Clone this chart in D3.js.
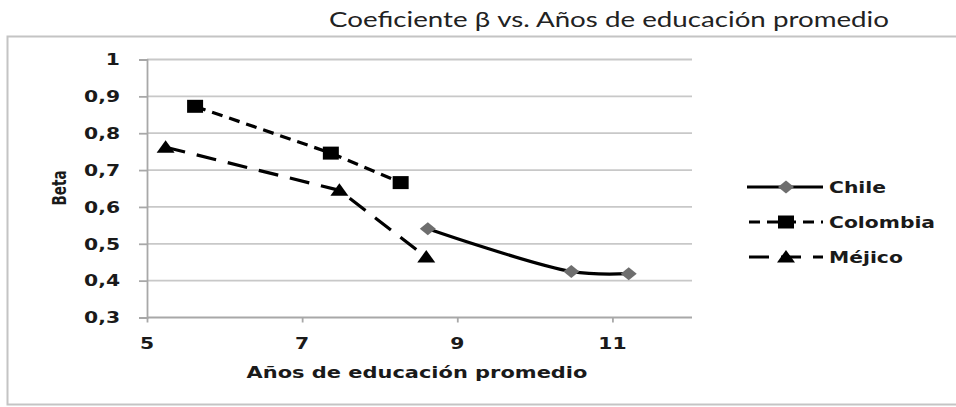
<!DOCTYPE html>
<html>
<head>
<meta charset="utf-8">
<script src="https://cdn.jsdelivr.net/npm/d3@7"></script>
<style>
  body { margin: 0; background: #fff; }
  svg { display: block; }
</style>
</head>
<body>
<svg id="chart" width="956" height="407"></svg>
<script>
// ---- data ----
const xTicks = [5, 7, 9, 11];
const yTicks = [0.3, 0.4, 0.5, 0.6, 0.7, 0.8, 0.9, 1];
const yTickLabels = ["0,3", "0,4", "0,5", "0,6", "0,7", "0,8", "0,9", "1"];

const seriesNames = ["Chile", "Colombia", "Méjico"];
const chileX = [8.62, 10.47, 11.21];
const chileY = [0.541, 0.425, 0.419];
const colombiaX = [5.62, 7.37, 8.27];
const colombiaY = [0.873, 0.746, 0.666];
const mexicoX = [5.24, 7.48, 8.60];
const mexicoY = [0.762, 0.645, 0.464];

const titleText = "Coeficiente β vs. Años de educación promedio";
const xTitle = "Años de educación promedio";
const yTitle = "Beta";

// ---- layout ----
const svg = d3.select("#chart");
const SX = 1.27; // horizontal text stretch
const plot = { left: 147, right: 690, top: 59.5, bottom: 317.5 };

const x = d3.scaleLinear().domain([5, 12]).range([plot.left, plot.right]);
const y = d3.scaleLinear().domain([0.3, 1]).range([plot.bottom, plot.top]);

function label(g, px, py, str, o = {}) {
  const sx = o.sx || SX;
  return g.append("text")
    .attr("transform", `translate(${px},${py}) scale(${sx},1)` + (o.rotate ? ` rotate(${o.rotate})` : ""))
    .attr("text-anchor", o.anchor || "start")
    .attr("font-family", o.family || "'DejaVu Sans', Verdana, sans-serif")
    .attr("font-weight", o.weight || "bold")
    .attr("font-size", o.size || 16)
    .attr("fill", o.fill || "#1a1a1a")
    .text(str);
}

// outer frame
svg.append("rect")
  .attr("x", 7.5).attr("y", 36.5).attr("width", 970).attr("height", 368)
  .attr("fill", "none").attr("stroke", "#c4c4c4").attr("stroke-width", 2);

// title
label(svg, 609, 27, titleText, { anchor: "middle", family: "Lato, 'Open Sans', sans-serif", weight: "normal", size: 22, sx: 1.26, fill: "#222" });

// horizontal gridlines
svg.append("g")
  .selectAll("line")
  .data(yTicks.filter(d => d > 0.3))
  .join("line")
  .attr("x1", plot.left).attr("x2", plot.right + 2)
  .attr("y1", d => y(d)).attr("y2", d => y(d))
  .attr("stroke", "#c8c8c8").attr("stroke-width", 1.8);

// axes
const yAxis = svg.append("g")
  .attr("transform", `translate(${plot.left},0)`)
  .call(d3.axisLeft(y).tickValues(yTicks).tickSize(8).tickFormat(""));
const xAxis = svg.append("g")
  .attr("transform", `translate(0,${plot.bottom})`)
  .call(d3.axisBottom(x).tickValues(xTicks).tickSize(5).tickSizeOuter(0).tickFormat(""));
[yAxis, xAxis].forEach(a => {
  a.select(".domain").attr("stroke", "#a8a8a8").attr("stroke-width", 1.8);
  a.selectAll(".tick line").attr("stroke", "#a8a8a8").attr("stroke-width", 1.8);
});
xAxis.select(".domain").attr("d", `M${plot.left},0H${plot.right + 2}`);

// tick labels
yTicks.forEach((t, i) => label(svg, 120, y(t) + 5.8, yTickLabels[i], { anchor: "end", size: 16 }));
xTicks.forEach(t => label(svg, x(t), 349, String(t), { anchor: "middle", size: 16 }));

// axis titles
label(svg, 417, 378, xTitle, { anchor: "middle", size: 16.5 });
label(svg, 66, 188, yTitle, { anchor: "middle", size: 15, rotate: -90, family: "'Liberation Sans Narrow', 'DejaVu Sans Condensed', sans-serif" });

// markers
const markers = {
  diamond: "M0,-6.5L8,0L0,6.5L-8,0Z",
  square: "M-8,-6.5H8V6.5H-8Z",
  triangle: "M0,-7L9,5.5H-9Z"
};

const series = [
  { name: seriesNames[0], xs: chileX, ys: chileY, dash: null, curve: d3.curveCatmullRom, marker: "diamond", fill: "#6e6e6e" },
  { name: seriesNames[1], xs: colombiaX, ys: colombiaY, dash: "11,7", curve: d3.curveLinear, marker: "square", fill: "#000" },
  { name: seriesNames[2], xs: mexicoX, ys: mexicoY, dash: "20,12", curve: d3.curveLinear, marker: "triangle", fill: "#000" }
];

series.forEach(s => {
  const pts = s.xs.map((v, i) => [v, s.ys[i]]);
  const line = d3.line().x(d => x(d[0])).y(d => y(d[1])).curve(s.curve);
  svg.append("path")
    .attr("d", line(pts))
    .attr("fill", "none")
    .attr("stroke", "#000")
    .attr("stroke-width", 3.2)
    .attr("stroke-dasharray", s.dash);
  svg.append("g").selectAll("path")
    .data(pts)
    .join("path")
    .attr("transform", d => `translate(${x(d[0])},${y(d[1])})`)
    .attr("d", markers[s.marker])
    .attr("fill", s.fill);
});

// legend
const legendY = [187, 222, 257];
series.forEach((s, i) => {
  const g = svg.append("g").attr("transform", `translate(0,${legendY[i]})`);
  g.append("line")
    .attr("x1", 747).attr("x2", 823).attr("y1", 0).attr("y2", 0)
    .attr("stroke", "#000").attr("stroke-width", 3.2)
    .attr("stroke-dasharray", s.dash)
    .attr("stroke-dashoffset", s.dash ? -2 : null);
  g.append("path")
    .attr("transform", "translate(786,0)")
    .attr("d", markers[s.marker])
    .attr("fill", s.fill);
  label(g, 829, 6, s.name, { size: 16 });
});
</script>
</body>
</html>
